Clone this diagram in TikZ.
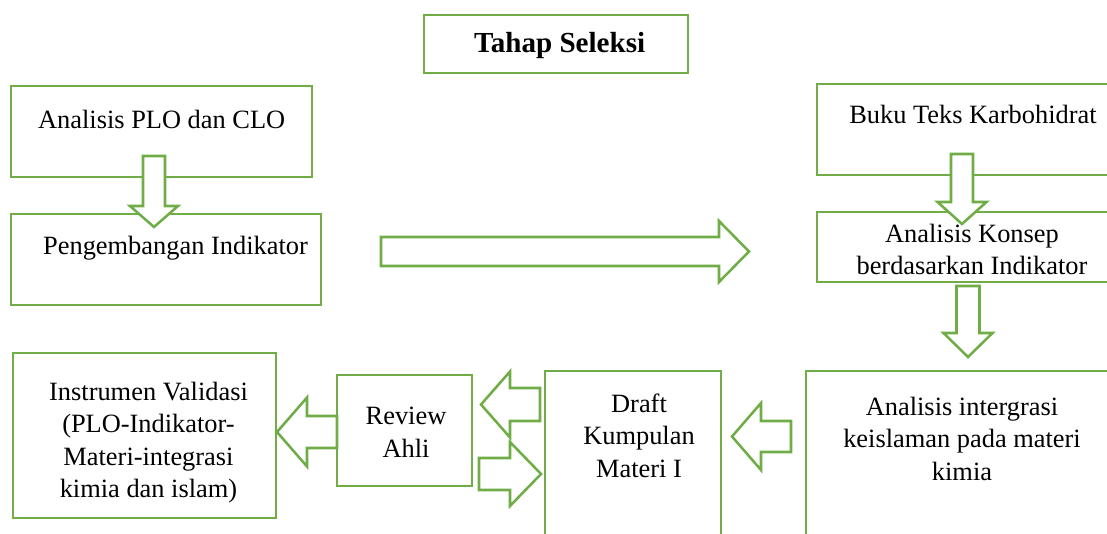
\documentclass[tikz,border=0pt]{standalone}
\usepackage{fontspec}
\setmainfont{Liberation Serif}
\definecolor{ogreen}{RGB}{112,173,71}
\tikzset{
  box/.style={draw=ogreen, line width=1.9pt, fill=white, rectangle, inner sep=0pt, outer sep=0pt, anchor=north west},
  txt/.style={inner sep=0pt, outer sep=0pt, anchor=north, align=center, font=\fontsize{19.8}{24.4}\selectfont, text=black},
  ttl/.style={inner sep=0pt, outer sep=0pt, anchor=north, align=center, font=\fontsize{21.8}{26}\selectfont\bfseries, text=black},
  blk/.style={draw=ogreen, line width=1.9pt, fill=white, line join=miter},
}
% name, tail x, tail y, angle, length, shaft half width, head half width, head length
\newcommand{\blockarrow}[8]{%
  \begin{scope}[shift={(#2,#3)}, rotate=#4]
    \draw[blk] (0,-#6) -- ({#5-#8},-#6) -- ({#5-#8},-#7) -- (#5,0) -- ({#5-#8},#7) -- ({#5-#8},#6) -- (0,#6) -- cycle;
    \coordinate (#1-tail) at (0,0);
    \coordinate (#1-tip) at (#5,0);
  \end{scope}}
\begin{document}
\begin{tikzpicture}[x=0.75pt,y=-0.75pt]
\useasboundingbox (0,0) rectangle (1107,534);
\clip (0,0) rectangle (1107,534);

% boxes
\node[box, minimum width=198pt, minimum height=43.5pt] (tahap) at (424,15) {};
\node[box, minimum width=225.75pt, minimum height=68.25pt] (plo) at (11,86) {};
\node[box, minimum width=232.5pt, minimum height=68.25pt] (indik) at (11,214) {};
\node[box, minimum width=231pt, minimum height=68.25pt] (buku) at (817,84) {};
\node[box, minimum width=231pt, minimum height=52.5pt] (konsep) at (817,212) {};
\node[box, minimum width=239.25pt, minimum height=130.5pt] (integ) at (806,371) {};
\node[box, minimum width=132pt, minimum height=130.5pt] (draft) at (545,371) {};
\node[box, minimum width=101.25pt, minimum height=83.25pt] (review) at (337,375) {};
\node[box, minimum width=197.25pt, minimum height=123.75pt] (instr) at (13,353) {};

% texts
\node[ttl] (t-tahap) at (559.7,32.6) {Tahap Seleksi};
\node[txt] (t-plo) at (161.7,109.7) {Analisis PLO dan CLO};
\node[txt] (t-indik) at (175.5,236) {Pengembangan Indikator};
\node[txt] (t-buku) at (973,105) {Buku Teks Karbohidrat};
\node[txt] (t-konsep) at (972,223.7) {Analisis Konsep\\berdasarkan Indikator};
\node[txt] (t-integ) at (962,397) {Analisis intergrasi\\keislaman pada materi\\kimia};
\node[txt] (t-draft) at (639,393.7) {Draft\\Kumpulan\\Materi I};
\node[txt] (t-review) at (406,407) {Review\\Ahli};
\node[txt] (t-instr) at (148.5,382) {Instrumen Validasi\\(PLO-Indikator-\\Materi-integrasi\\kimia dan islam)};

% block arrows
\blockarrow{a1}{154}{156}{-90}{71}{11}{24}{21}
\blockarrow{a2}{381}{251.5}{0}{368}{14.5}{30.5}{30}
\blockarrow{a3}{962}{154}{-90}{70}{11}{24.5}{22}
\blockarrow{a4}{968}{286}{-90}{71}{11.5}{24.5}{24}
\blockarrow{a5}{791}{436.5}{180}{59}{15.5}{33.5}{29}
\blockarrow{a6}{540}{404.5}{180}{59}{16.5}{33}{29}
\blockarrow{a7}{479}{474}{0}{62}{16}{32}{31}
\blockarrow{a8}{337}{432}{180}{60}{16}{34.5}{30}
\end{tikzpicture}
\end{document}
